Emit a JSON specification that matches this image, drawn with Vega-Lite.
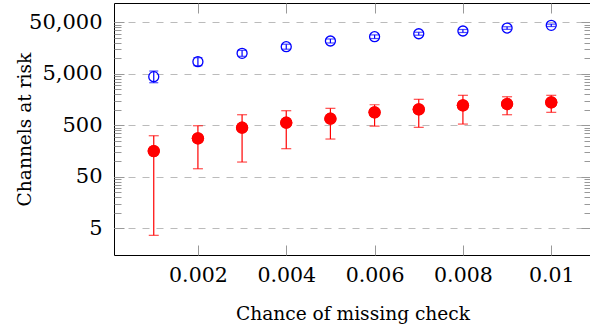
{
  "$schema": "https://vega.github.io/schema/vega-lite/v6.json",
  "width": 477,
  "height": 252,
  "autosize": {"type": "none"},
  "padding": {"left": 114, "top": 3, "right": 0, "bottom": 74},
  "background": "white",
  "config": {
    "view": {"stroke": "#000000", "strokeWidth": 1},
    "font": "DejaVu Serif",
    "axis": {"labelFont": "DejaVu Serif", "titleFont": "DejaVu Serif", "labelColor": "#000000", "titleColor": "#000000", "titleFontWeight": "normal"}
  },
  "data": {
    "values": [
      {"x": 0.001, "series": "open", "y": 4400, "lo": 3360, "hi": 5660},
      {"x": 0.002, "series": "open", "y": 8600, "lo": 7190, "hi": 10290},
      {"x": 0.003, "series": "open", "y": 12500, "lo": 10930, "hi": 14300},
      {"x": 0.004, "series": "open", "y": 16800, "lo": 15030, "hi": 18780},
      {"x": 0.005, "series": "open", "y": 21700, "lo": 19840, "hi": 23740},
      {"x": 0.006, "series": "open", "y": 26250, "lo": 24200, "hi": 28470},
      {"x": 0.007, "series": "open", "y": 30000, "lo": 28070, "hi": 32070},
      {"x": 0.008, "series": "open", "y": 33900, "lo": 31700, "hi": 36240},
      {"x": 0.009, "series": "open", "y": 38700, "lo": 36500, "hi": 41000},
      {"x": 0.01, "series": "open", "y": 43700, "lo": 41400, "hi": 46100},
      {"x": 0.001, "series": "filled", "y": 158, "lo": 3.66, "hi": 314},
      {"x": 0.002, "series": "filled", "y": 280, "lo": 71.8, "hi": 491},
      {"x": 0.003, "series": "filled", "y": 449, "lo": 96.9, "hi": 803},
      {"x": 0.004, "series": "filled", "y": 562, "lo": 176, "hi": 961},
      {"x": 0.005, "series": "filled", "y": 672, "lo": 271, "hi": 1069},
      {"x": 0.006, "series": "filled", "y": 894, "lo": 484, "hi": 1256},
      {"x": 0.007, "series": "filled", "y": 1023, "lo": 457, "hi": 1600},
      {"x": 0.008, "series": "filled", "y": 1222, "lo": 529, "hi": 1913},
      {"x": 0.009, "series": "filled", "y": 1297, "lo": 803, "hi": 1794},
      {"x": 0.01, "series": "filled", "y": 1399, "lo": 894, "hi": 1913}
    ]
  },
  "layer": [
    {
      "transform": [{"filter": "datum.series === 'open'"}],
      "mark": {"type": "errorbar", "color": "#0000ff", "ticks": {"size": 9, "thickness": 1.2}, "rule": {"strokeWidth": 1.2}},
      "encoding": {
        "x": {"field": "x", "type": "quantitative",
          "scale": {"type": "linear", "domain": [0.0001, 0.0109], "nice": false, "zero": false},
          "axis": {"orient": "bottom", "values": [0.002, 0.004, 0.006, 0.008, 0.01], "format": ".3~f", "ticks": false, "domain": false, "grid": false, "labelFont": "DejaVu Serif", "labelFontSize": 20.5, "labelPadding": 10, "title": "Chance of missing check", "titleFont": "DejaVu Serif", "titleFontSize": 18.6, "titlePadding": 19}},
        "y": {"field": "lo", "type": "quantitative",
          "scale": {"type": "log", "domain": [1.52, 118500], "nice": false},
          "axis": {"orient": "left", "values": [5, 50, 500, 5000, 50000], "format": ",", "ticks": false, "domain": false, "grid": true, "gridColor": "#bbbbbb", "gridDash": [7, 7], "gridWidth": 1, "labelFont": "DejaVu Serif", "labelFontSize": 21, "labelPadding": 12, "title": "Channels at risk", "titleFont": "DejaVu Serif", "titleFontSize": 18.6, "titlePadding": -6}},
        "y2": {"field": "hi"}
      }
    },
    {
      "transform": [{"filter": "datum.series === 'open'"}],
      "mark": {"type": "point", "shape": "circle", "filled": false, "size": 100, "strokeWidth": 1.3, "color": "#0000ff", "opacity": 1},
      "encoding": {
        "x": {"field": "x", "type": "quantitative",
          "axis": {"orient": "bottom", "values": [0.002, 0.004, 0.006, 0.008, 0.01], "labels": false, "domain": false, "grid": false, "ticks": true, "tickSize": -10, "tickColor": "#999999", "tickWidth": 1, "title": null}},
        "y": {"field": "y", "type": "quantitative",
          "axis": {"orient": "left", "values": [10, 15, 20, 25, 30, 35, 40, 45, 100, 150, 200, 250, 300, 350, 400, 450, 1000, 1500, 2000, 2500, 3000, 3500, 4000, 4500, 10000, 15000, 20000, 25000, 30000, 35000, 40000, 45000], "labels": false, "domain": false, "grid": false, "ticks": true, "tickSize": -7, "tickColor": "#999999", "tickWidth": 1, "title": null}}
      }
    },
    {
      "transform": [{"filter": "datum.series === 'filled'"}],
      "mark": {"type": "errorbar", "color": "#ff0000", "ticks": {"size": 10, "thickness": 1.2}, "rule": {"strokeWidth": 1.2}},
      "encoding": {
        "x": {"field": "x", "type": "quantitative",
          "axis": {"orient": "top", "values": [0.002, 0.004, 0.006, 0.008, 0.01], "labels": false, "domain": false, "grid": false, "ticks": true, "tickSize": -10, "tickColor": "#999999", "tickWidth": 1, "title": null}},
        "y": {"field": "lo", "type": "quantitative",
          "axis": {"orient": "right", "values": [10, 15, 20, 25, 30, 35, 40, 45, 100, 150, 200, 250, 300, 350, 400, 450, 1000, 1500, 2000, 2500, 3000, 3500, 4000, 4500, 10000, 15000, 20000, 25000, 30000, 35000, 40000, 45000], "labels": false, "domain": false, "grid": false, "ticks": true, "tickSize": -7, "tickColor": "#999999", "tickWidth": 1, "title": null}},
        "y2": {"field": "hi"}
      }
    },
    {
      "transform": [{"filter": "datum.series === 'filled'"}],
      "mark": {"type": "circle", "size": 150, "color": "#ff0000", "opacity": 1},
      "encoding": {
        "x": {"field": "x", "type": "quantitative", "axis": null},
        "y": {"field": "y", "type": "quantitative",
          "axis": {"orient": "left", "values": [5, 50, 500, 5000, 50000], "labels": false, "domain": false, "grid": false, "ticks": true, "tickSize": -10, "tickColor": "#999999", "tickWidth": 1, "title": null}}
      }
    },
    {
      "transform": [{"filter": "datum.series === 'filled'"}],
      "mark": {"type": "circle", "size": 150, "color": "#ff0000", "opacity": 1},
      "encoding": {
        "x": {"field": "x", "type": "quantitative", "axis": null},
        "y": {"field": "y", "type": "quantitative",
          "axis": {"orient": "right", "values": [5, 50, 500, 5000, 50000], "labels": false, "domain": false, "grid": false, "ticks": true, "tickSize": -10, "tickColor": "#999999", "tickWidth": 1, "title": null}}
      }
    }
  ],
  "resolve": {"axis": {"x": "independent", "y": "independent"}}
}
